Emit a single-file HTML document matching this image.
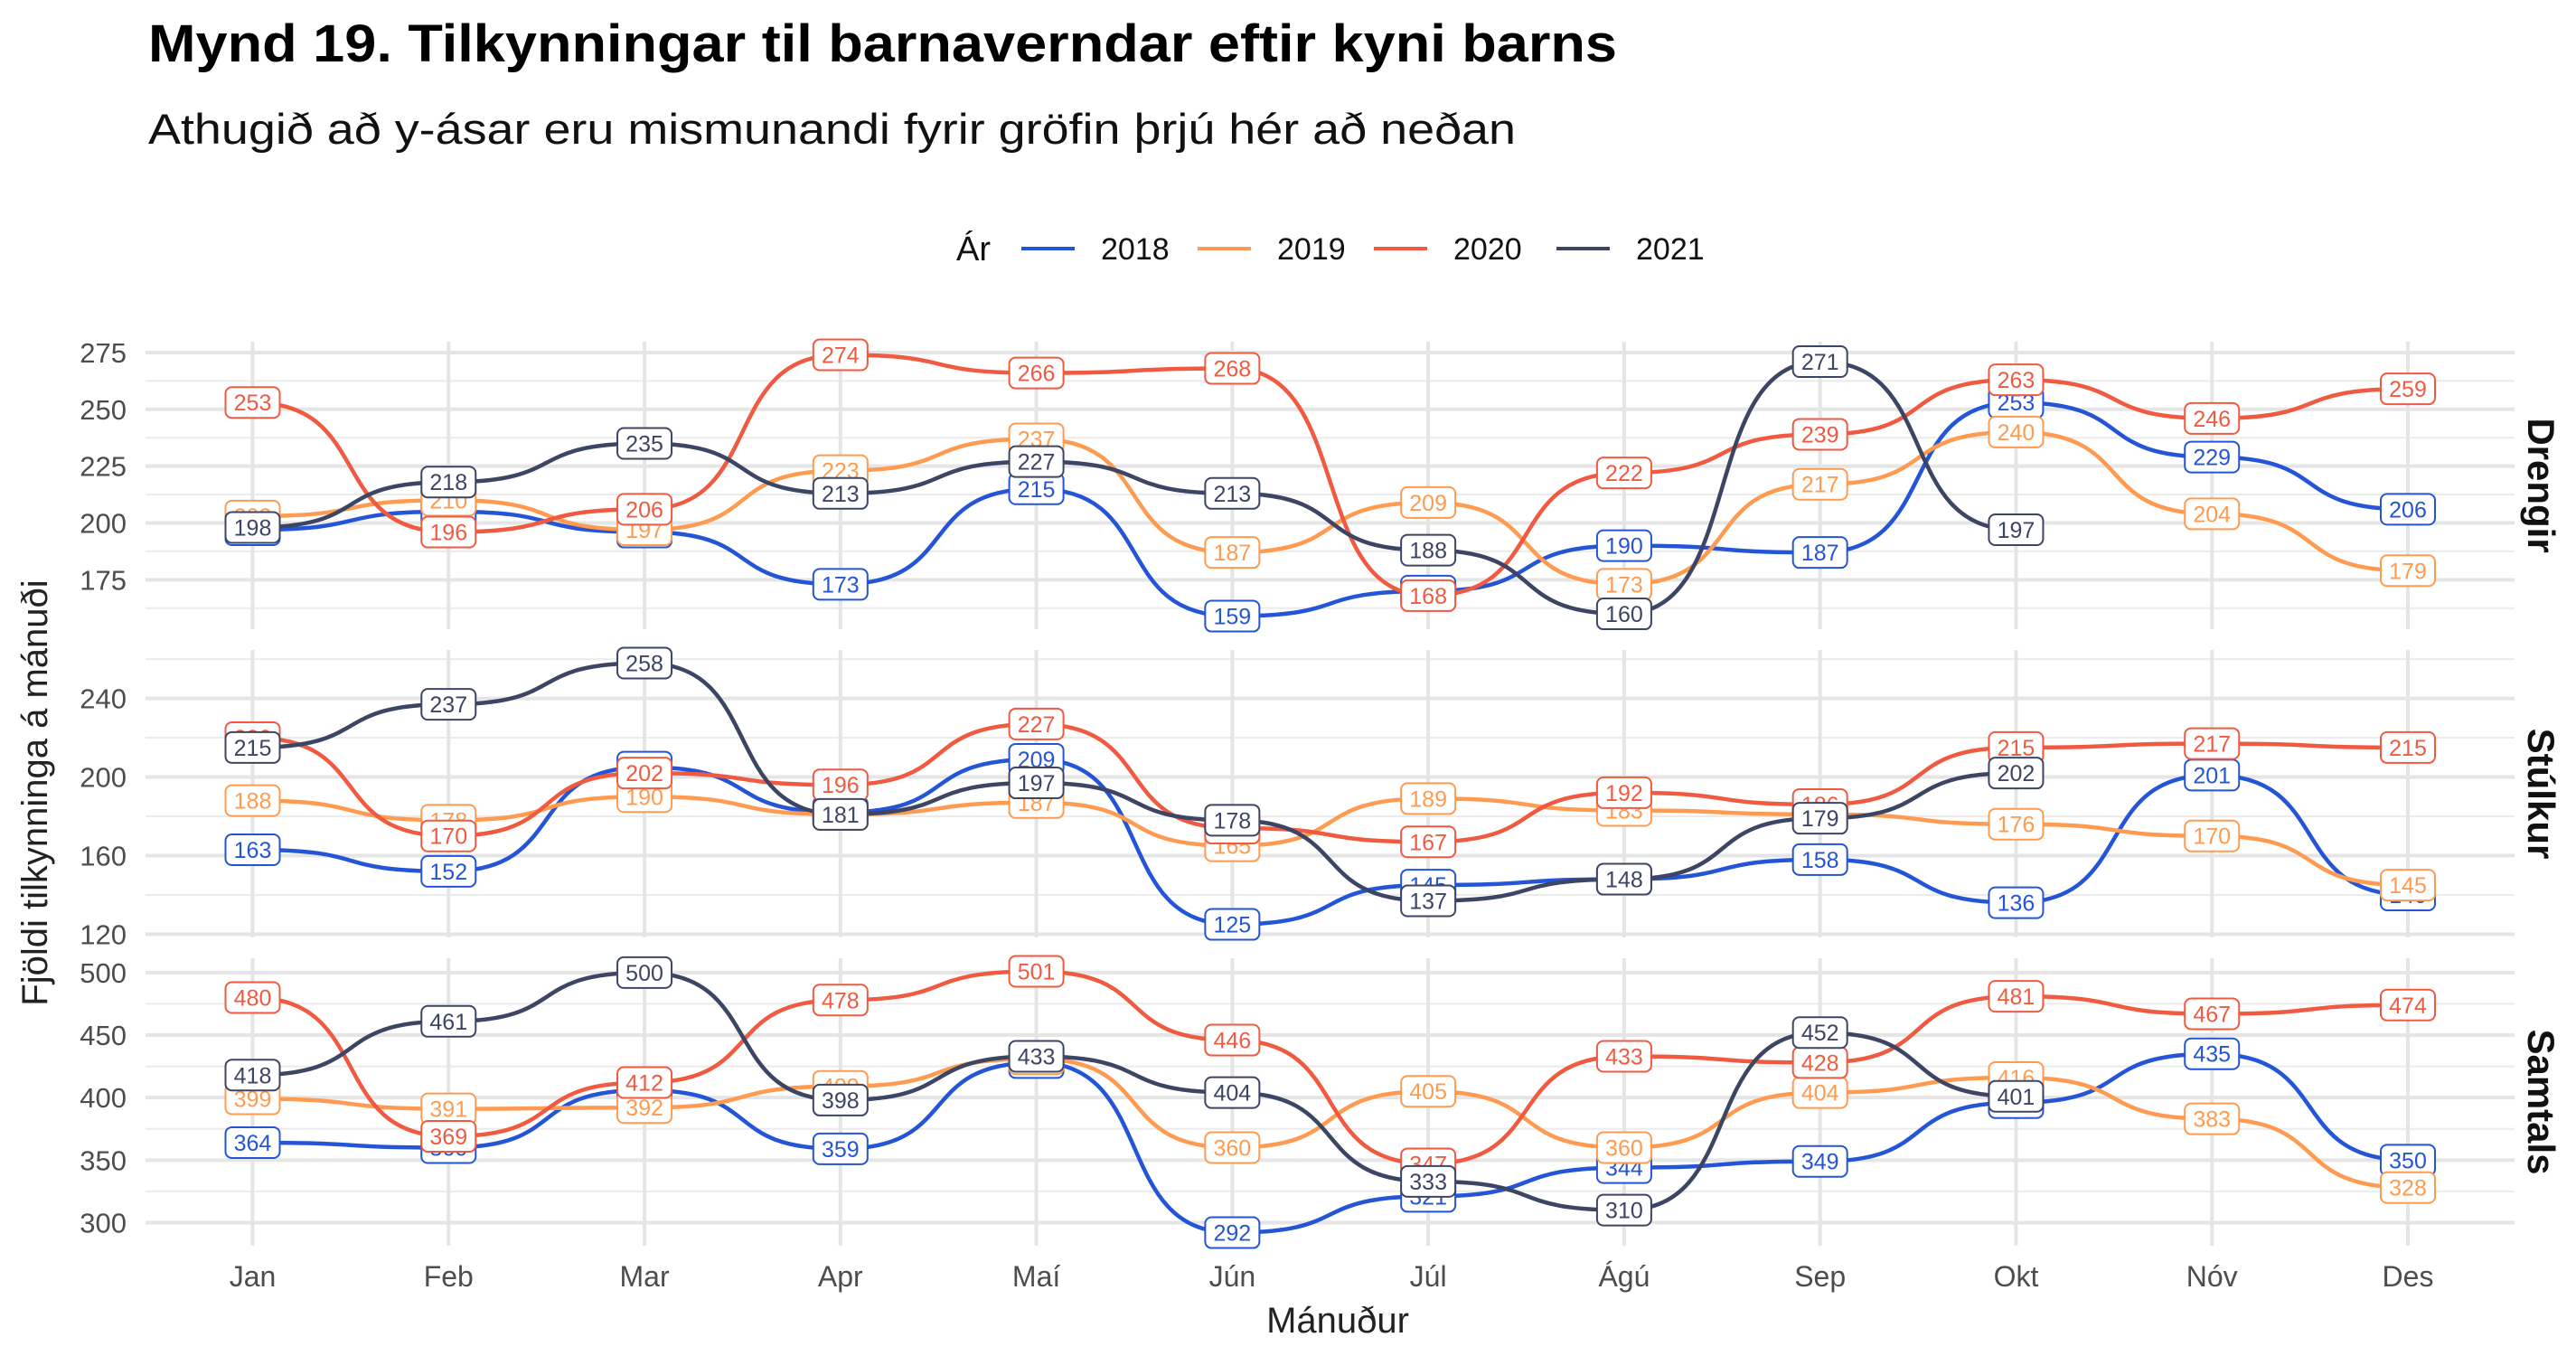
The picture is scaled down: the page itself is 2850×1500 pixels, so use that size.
<!DOCTYPE html>
<html><head><meta charset="utf-8"><style>
html,body{margin:0;padding:0;background:#fff;}
svg{display:block;font-family:"Liberation Sans",sans-serif;}
</style></head><body>
<svg id="chart" width="2850" height="1500" viewBox="0 0 2850 1500" xmlns="http://www.w3.org/2000/svg">
<text x="164" y="68" font-size="58" font-weight="bold" fill="#000" textLength="1625" lengthAdjust="spacingAndGlyphs">Mynd 19. Tilkynningar til barnaverndar eftir kyni barns</text>
<text x="164" y="159" font-size="47" fill="#111" textLength="1513" lengthAdjust="spacingAndGlyphs">Athugið að y-ásar eru mismunandi fyrir gröfin þrjú hér að neðan</text>
<g id="legend"></g>
<g id="grid"></g>
<g id="lines"></g>
<g id="labels"></g>
<g id="axes"></g>
<text x="1480" y="1474" font-size="40" fill="#222" text-anchor="middle">Mánuður</text>
<text transform="translate(52,877) rotate(-90)" font-size="40" fill="#222" text-anchor="middle">Fjöldi tilkynninga á mánuði</text>
</svg>
<script>
const months = ["Jan","Feb","Mar","Apr","Maí","Jún","Júl","Ágú","Sep","Okt","Nóv","Des"];
const years = ["2018","2019","2020","2021"];
const colors = ["#2455d6","#ff9b50","#f05a41","#3c4563"];
const panelNames = ["Drengir","Stúlkur","Samtals"];
const drengir2018 = [197,205,196,173,215,159,170,190,187,253,229,206];
const drengir2019 = [203,210,197,223,237,187,209,173,217,240,204,179];
const drengir2020 = [253,196,206,274,266,268,168,222,239,263,246,259];
const drengir2021 = [198,218,235,213,227,213,188,160,271,197];
const stulkur2018 = [163,152,205,182,209,125,145,148,158,136,201,140];
const stulkur2019 = [188,178,190,181,187,165,189,183,181,176,170,145];
const stulkur2020 = [220,170,202,196,227,174,167,192,186,215,217,215];
const stulkur2021 = [215,237,258,181,197,178,137,148,179,202];
const samtals2018 = [364,360,406,359,428,292,321,344,349,396,435,350];
const samtals2019 = [399,391,392,409,431,360,405,360,404,416,383,328];
const samtals2020 = [480,369,412,478,501,446,347,433,428,481,467,474];
const samtals2021 = [418,461,500,398,433,404,333,310,452,401];
const drengirTicks = [175,200,225,250,275];
const stulkurTicks = [120,160,200,240];
const samtalsTicks = [300,350,400,450,500];

const panelSeries = [[drengir2018,drengir2019,drengir2020,drengir2021],[stulkur2018,stulkur2019,stulkur2020,stulkur2021],[samtals2018,samtals2019,samtals2020,samtals2021]];
const panelTicks = [drengirTicks,stulkurTicks,samtalsTicks];
const NS="http://www.w3.org/2000/svg";
function mk(tag,attrs,parent){const e=document.createElementNS(NS,tag);for(const k in attrs)e.setAttribute(k,attrs[k]);parent.appendChild(e);return e;}
const plotL=161, plotR=2782, janX=279.5, desX=2664;
const panelTop=[378,719,1060], panelH=318;
function xOf(i){return janX+(desX-janX)*i/11;}

const grid=document.getElementById('grid'), lines=document.getElementById('lines'), labels=document.getElementById('labels'), axes=document.getElementById('axes'), legend=document.getElementById('legend');

panelSeries.forEach((series,p)=>{
  let all=[].concat(...series); let mn=Math.min(...all), mx=Math.max(...all);
  const ex=(mx-mn)*0.05; const lo=mn-ex, hi=mx+ex;
  const top=panelTop[p], bot=top+panelH;
  const yOf=v=>bot-(v-lo)/(hi-lo)*panelH;
  const ticks=panelTicks[p]; const step=ticks[1]-ticks[0];
  for(let v=ticks[0]-step/2; v<=hi; v+=step){ if(v<lo) continue;
    const g=mk('line',{x1:plotL,x2:plotR,y1:yOf(v),y2:yOf(v),stroke:'#ebebeb','stroke-width':2},grid);
    
    
  }
  ticks.forEach(t=>{
    const g=mk('line',{x1:plotL,x2:plotR,y1:yOf(t),y2:yOf(t),stroke:'#e5e5e5','stroke-width':4},grid);
    
    
    const tl=mk('text',{x:140,y:yOf(t)+11,'font-size':31,fill:'#4d4d4d','text-anchor':'end'},axes);
    tl.textContent=t;
    
    
  });
  months.forEach((m,i)=>{
    const g=mk('line',{x1:xOf(i),x2:xOf(i),y1:top,y2:bot,stroke:'#e5e5e5','stroke-width':4},grid);
    
    
  });
  const st=mk('text',{transform:`translate(${2797},${top+panelH/2}) rotate(90)`,'font-size':42,'font-weight':'bold',fill:'#111','text-anchor':'middle'},axes);
  st.textContent=panelNames[p];
  
  
  series.forEach((vals,s)=>{
    let d=`M${xOf(0)},${yOf(vals[0])}`;
    for(let i=1;i<vals.length;i++){
      const x0=xOf(i-1),x1=xOf(i),y0=yOf(vals[i-1]),y1=yOf(vals[i]);const dx=(x1-x0)*0.62;
      d+=` C${x0+dx},${y0} ${x1-dx},${y1} ${x1},${y1}`;
    }
    const path=mk('path',{d:d,fill:'none',stroke:colors[s],'stroke-width':4.5},lines);
    
    
  });
  series.forEach((vals,s)=>{
    vals.forEach((v,i)=>{
      const g=mk('g',{},labels);
      
      
      const cx=xOf(i), cy=yOf(v);
      mk('rect',{x:cx-30,y:cy-17,width:60,height:34,rx:7,fill:'#fff',stroke:colors[s],'stroke-width':2},g);
      const t=mk('text',{x:cx,y:cy+9,'font-size':25,fill:colors[s],'text-anchor':'middle'},g);
      t.textContent=v;
    });
  });
});
months.forEach((m,i)=>{
  const t=mk('text',{x:xOf(i),y:1423,'font-size':32,fill:'#4d4d4d','text-anchor':'middle'},axes);
  t.textContent=m;
  
  
});
const lt=mk('text',{x:1058,y:288,'font-size':38,fill:'#111'},legend);
lt.textContent='Ár';


const legX=[1130,1325,1520,1722];
years.forEach((y,s)=>{
  const g=mk('g',{},legend);
  
  
  mk('line',{x1:legX[s],x2:legX[s]+59,y1:275,y2:275,stroke:colors[s],'stroke-width':4},g);
  const t=mk('text',{x:legX[s]+88,y:287,'font-size':34,fill:'#111'},g);
  t.textContent=y;
});
</script>
</body></html>
